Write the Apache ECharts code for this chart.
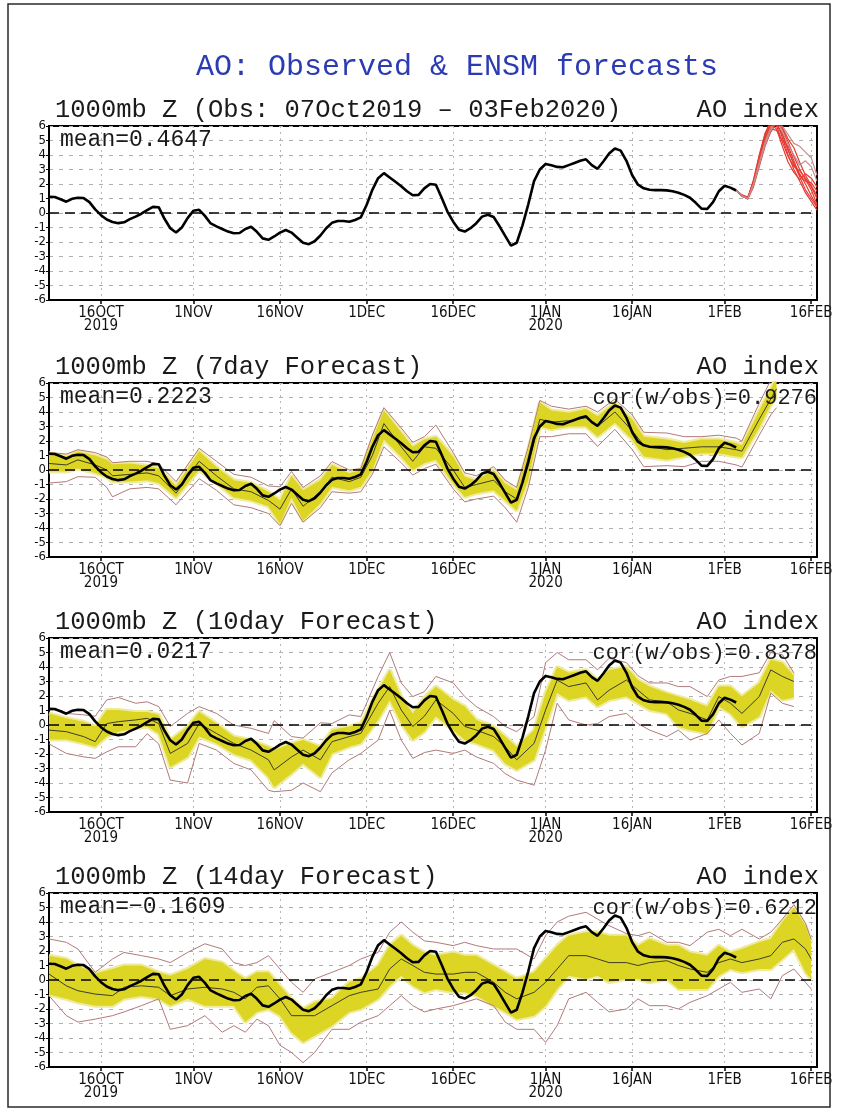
<!DOCTYPE html>
<html>
<head>
<meta charset="utf-8">
<script src="https://cdn.jsdelivr.net/npm/echarts@6/dist/echarts.min.js"></script>
<style>
  html, body { margin: 0; padding: 0; background: #fff; }
  #chart { width: 850px; height: 1110px; }
</style>
</head>
<body>
<div id="chart"></div>
<script>
// ---- time axis: one category per day, starting 7 Oct 2019 ----
const startDay = Date.UTC(2019, 9, 7);
const dayCount = 134;
const tickDays = [9, 25, 40, 55, 70, 86, 101, 117, 132];
const tickLabels = ['16OCT\n2019', '1NOV', '16NOV', '1DEC', '16DEC', '1JAN\n2020', '16JAN', '1FEB', '16FEB'];

// ---- observed daily AO index, 07Oct2019 .. 03Feb2020 ----
const obsValues = [
  1.12, 1.10, 0.95, 0.78, 0.98, 1.05, 1.03, 0.75, 0.25, -0.15,
  -0.45, -0.62, -0.70, -0.64, -0.42, -0.25, -0.05, 0.20, 0.42, 0.40,
  -0.40, -1.05, -1.35, -1.00, -0.35, 0.15, 0.22, -0.20, -0.72, -0.92,
  -1.10, -1.28, -1.40, -1.38, -1.10, -0.95, -1.30, -1.75, -1.85, -1.62,
  -1.35, -1.17, -1.35, -1.70, -2.05, -2.15, -1.95, -1.55, -1.05, -0.68,
  -0.55, -0.55, -0.60, -0.48, -0.30, 0.55, 1.60, 2.40, 2.75, 2.45,
  2.15, 1.85, 1.50, 1.22, 1.25, 1.70, 2.00, 1.95, 1.05, 0.10,
  -0.60, -1.15, -1.28, -1.05, -0.70, -0.25, -0.12, -0.28, -0.90, -1.58,
  -2.25, -2.05, -0.85, 0.60, 2.20, 3.00, 3.38, 3.30, 3.18, 3.15,
  3.30, 3.45, 3.60, 3.70, 3.30, 3.05, 3.55, 4.10, 4.45, 4.30,
  3.60, 2.60, 1.95, 1.70, 1.60, 1.58, 1.58, 1.56, 1.50, 1.40,
  1.25, 1.05, 0.70, 0.30, 0.28, 0.75, 1.50, 1.88, 1.75, 1.55
];

// ---- ensemble member forecasts from 03Feb2020 ----
const memberDays = [119, 120, 121, 122, 123, 124, 125, 126, 127, 128, 129, 130, 131, 132, 133];
const member01 = [1.55, 1.20, 1.00, 2.10, 3.70, 5.20, 6.20, 6.30, 5.20, 4.00, 3.00, 2.20, 1.40, 0.80, 0.20];
const member02 = [1.55, 1.20, 1.00, 1.90, 3.40, 4.90, 6.00, 6.10, 5.50, 4.40, 3.30, 2.70, 2.00, 1.20, 0.50];
const member03 = [1.55, 1.25, 1.05, 2.20, 3.90, 5.40, 6.40, 6.00, 4.90, 3.90, 3.20, 2.90, 2.40, 1.80, 1.00];
const member04 = [1.55, 1.20, 0.95, 1.80, 3.20, 4.60, 5.60, 6.20, 5.80, 4.90, 3.90, 3.00, 2.30, 1.60, 0.60];
const member05 = [1.55, 1.15, 1.00, 2.00, 3.50, 5.00, 5.80, 5.70, 5.00, 4.60, 3.60, 2.60, 2.20, 2.10, 1.50];
const member06 = [1.55, 1.20, 1.00, 2.30, 4.00, 5.50, 6.30, 6.50, 5.90, 5.10, 4.50, 3.50, 2.60, 1.90, 1.20];
const member07 = [1.55, 1.25, 1.10, 2.00, 3.60, 5.10, 5.90, 6.10, 5.40, 4.30, 3.40, 2.50, 1.60, 1.00, 0.40];
const member08 = [1.55, 1.20, 1.00, 1.90, 3.30, 4.70, 5.70, 6.30, 6.00, 5.40, 4.80, 4.60, 4.20, 3.80, 2.60];
const member09 = [1.55, 1.20, 1.05, 2.10, 3.80, 5.30, 6.10, 5.80, 4.60, 3.50, 2.80, 2.30, 2.70, 2.40, 1.80];
const member10 = [1.55, 1.20, 1.00, 2.00, 3.50, 4.90, 5.90, 6.40, 5.60, 4.70, 4.00, 3.30, 3.60, 3.20, 2.20];

// ---- 7-day forecast: days, envelope max/min, shaded spread hi/lo, ensemble mean ----
const f7Days = [0,3,5,8,10, 11,14,17,19,22, 26,29,32,35,38, 40,42,44,47,49, 52,54,56,58,61, 63,65,67,70,72, 74,77,79,81,83, 85,87,90,93,95, 98,101,103,107,110, 113,116,119,120,123, 125,126];
const f7Max = [1.2,1.1,1.4,1.2,0.9, 0.5,0.6,0.6,0.4,-0.8, 1.5,0.6,-0.3,-0.5,-1.1, -1.16,-0.1,-1.2,-0.4,0.58, 0.0,0.1,2.4,4.3,2.9, 1.9,2.3,3.1,1.2,-0.2, -0.4,0.23,-0.7,-1.2,1.6, 4.8,4.4,4.2,4.4,4.0, 4.9,3.8,2.6,2.55,2.3, 2.3,2.4,2.2,2.0,4.6, 6.2,6.8];
const f7Hi = [1.15,0.95,1.28,1.0,0.7, 0.4,0.45,0.3,0.1,-1.1, 1.3,0.2,-0.7,-0.9,-1.5, -2.1,-0.4,-1.4,-0.7,0.35, -0.23,0.0,2.1,4.1,2.6, 1.6,2.1,2.3,0.93,-0.46, -0.7,0.0,-0.93,-1.4,1.4, 4.65,4.1,3.95,4.2,3.7, 4.65,3.5,2.3,2.1,1.86, 2.1,2.1,1.86,1.7,4.1, 5.6,6.4];
const f7Mean = [0.45,0.35,0.7,0.35,0.0, -0.4,-0.3,-0.2,-0.4,-1.6, 0.6,-0.4,-1.3,-1.5,-2.1, -2.7,-1.3,-2.5,-1.5,-0.5, -0.8,-0.5,1.0,3.2,1.6, 0.6,1.6,1.5,0.0,-1.2, -1.0,-0.7,-1.5,-2.0,0.3, 3.5,3.3,3.4,3.6,3.0, 4.0,2.7,1.7,1.4,1.5, 1.6,1.6,1.4,1.3,3.5, 4.9,5.6];
const f7Lo = [-0.1,-0.1,0.1,-0.2,-0.5, -0.8,-0.8,-0.7,-0.9,-1.9, 0.0,-0.9,-1.9,-2.1,-2.5, -3.7,-1.9,-3.5,-2.3,-1.16, -1.4,-1.16,0.0,2.1,0.9, 0.0,0.46,0.7,-0.93,-1.86, -1.6,-1.4,-2.1,-2.8,-0.7, 3.0,2.8,3.0,3.0,2.3, 3.26,2.1,0.93,0.7,0.93, 1.16,1.16,0.93,0.9,2.9, 4.5,5.1];
const f7Min = [-0.9,-0.8,-0.46,-0.5,-1.2, -1.85,-1.3,-1.2,-1.3,-2.4, -0.6,-1.4,-2.4,-2.6,-3.0, -3.84,-2.3,-3.6,-2.6,-1.5, -1.6,-1.5,-0.3,1.6,0.5, -0.35,0.1,0.4,-1.3,-2.2, -2.0,-1.8,-2.6,-3.6,-1.2, 2.3,2.3,2.5,2.5,1.63, 2.8,1.4,0.23,0.3,0.23, 0.6,0.6,0.35,0.2,2.4, 3.8,4.3];

// ---- 10-day forecast ----
const f10Days = [0,3,6,8,10, 12,15,17,19,21, 24,26,29,32,35, 38,39,42,44,47, 49,52,54,57,59, 61,63,65,67,70, 72,74,77,79,81, 84,86,88,90,93, 95,97,100,102,104, 107,109,111,114,116, 118,120,123,125,127, 129];
const f10Max = [1.15,0.8,0.7,0.6,1.73, 1.9,1.5,1.6,1.27,-0.1, 0.8,1.27,0.8,0.0,-0.23, -0.58,0.3,-0.8,-0.9,0.15, 0.1,0.7,0.58,3.35,5.0, 2.9,1.96,2.3,3.35,2.9, 1.96,1.27,0.58,-0.1,-0.46, 0.58,4.3,5.0,4.5,4.5, 3.8,4.6,4.3,3.4,2.9, 2.9,2.65,2.65,1.96,3.1, 3.35,3.35,3.6,5.0,4.85, 3.6];
const f10Hi = [0.8,0.46,0.23,-0.1,1.04, 1.04,0.9,0.9,0.7,-1.04, -0.1,0.9,0.1,-0.8,-1.04, -1.5,-1.73,-1.27,-1.04,-1.5, -0.35,-0.1,0.1,2.4,3.8, 1.96,0.8,1.9,2.65,1.73, 1.27,0.35,-0.1,-0.8,-1.5, -0.35,2.2,4.0,3.6,3.8, 3.1,3.8,4.0,3.1,2.65, 2.2,1.96,1.73,1.27,2.65, 2.65,1.96,2.9,4.5,4.3, 3.4];
const f10Mean = [-0.35,-0.46,-0.8,-1.15,0.1, 0.23,0.35,0.46,0.1,-1.96, -1.27,0.1,-0.58,-1.27,-1.73, -2.4,-3.1,-2.2,-1.73,-2.4, -1.15,-0.8,-0.58,1.5,2.65, 1.04,-0.1,0.6,1.73,0.8, -0.1,-0.35,-0.8,-1.5,-2.4, -1.27,1.04,3.1,2.65,2.9, 1.73,2.4,3.1,2.4,1.73, 1.6,1.04,0.8,0.35,1.96, 1.5,0.8,1.96,3.8,3.35, 3.0];
const f10Lo = [-1.0,-1.0,-1.27,-1.5,-0.8, -0.46,-0.23,-0.1,-0.6,-2.9, -2.2,-0.8,-1.27,-2.0,-2.4, -3.6,-4.3,-3.35,-2.65,-3.6, -1.96,-1.5,-1.27,0.35,1.73, 0.1,-1.04,-0.45,0.58,-0.35, -1.04,-1.27,-1.73,-2.65,-3.1, -2.4,-0.1,2.2,1.73,1.96, 1.27,1.73,1.96,1.5,1.04, 0.8,-0.1,-0.35,-0.58,1.27, 0.8,-0.1,0.58,2.4,1.73, 1.9];
const f10Min = [-1.3,-1.96,-2.2,-2.3,-1.85, -1.5,-1.5,-0.6,-1.3,-3.8, -4.0,-1.27,-1.73,-2.65,-3.1, -4.5,-4.6,-4.5,-4.0,-4.6, -3.3,-2.4,-1.96,-1.04,1.0, -1.04,-2.3,-1.9,-1.73,-1.96, -1.73,-2.2,-2.65,-3.35,-3.8, -4.15,-1.73,1.5,0.35,0.0, 0.1,0.58,0.8,0.1,-0.35, -0.8,-0.35,-1.04,-0.58,0.35, -0.58,-1.38,-0.58,2.2,1.5, 1.27];

// ---- 14-day forecast ----
const f14Days = [0,3,5,8,11, 13,16,19,21,24, 27,30,32,34,36, 38,40,42,44,46, 49,52,54,57,59, 61,63,65,67,70, 72,74,77,79,81, 84,86,88,90,93, 95,97,100,102,104, 107,109,111,114,116, 118,120,123,125,127, 129,131,132];
const f14Max = [2.83,2.6,2.14,0.53,1.45, 1.9,1.68,1.45,1.2,1.9, 2.5,2.14,1.2,1.0,1.2, 1.68,0.76,-0.16,-0.85,0.07, 0.53,1.0,1.45,1.9,3.3, 4.0,3.3,2.7,2.6,2.37, 2.6,2.37,2.14,2.14,2.14, 1.45,3.06,4.0,4.4,4.67, 4.2,3.75,3.2,3.06,3.3, 2.6,2.6,2.37,3.3,3.5, 3.06,3.5,2.83,3.3,4.2, 5.2,3.9,2.8];
const f14Hi = [1.68,1.45,1.0,0.45,0.76, 1.0,1.0,0.53,0.3,0.76, 1.45,1.2,0.6,0.07,0.53, 0.53,-0.4,-1.3,-2.0,-1.54, -1.3,-0.16,0.07,1.0,2.37, 3.06,2.37,1.9,1.68,1.9, 1.68,1.68,1.0,0.53,0.07, 0.53,1.45,2.37,3.06,3.3, 3.3,3.06,3.06,2.37,2.83, 2.37,2.37,1.9,1.68,2.37, 1.9,2.14,2.6,2.83,4.0, 5.0,3.75,2.6];
const f14Mean = [0.41,-0.4,-0.74,-0.97,-1.08, -0.5,-0.4,-0.5,-1.08,-0.62, -0.5,-0.62,-0.85,-1.3,-0.5, -0.4,-1.3,-2.46,-2.46,-2.46, -1.77,-1.08,-0.85,-0.62,0.76, 1.45,1.0,0.53,0.41,0.41, 0.53,0.53,-0.16,-0.85,-1.3, -0.85,-0.16,0.76,1.68,1.68, 1.45,1.2,1.2,1.0,1.2, 1.33,1.0,0.76,0.53,1.2, 1.45,1.2,1.45,1.68,2.6, 2.83,2.14,1.45];
const f14Lo = [-1.0,-1.3,-1.54,-1.77,-1.77, -1.3,-1.1,-1.3,-1.77,-1.3, -1.77,-1.77,-1.77,-2.9,-2.2, -2.0,-2.46,-3.6,-4.3,-3.84, -3.15,-2.2,-2.0,-1.3,-0.4, 0.3,-0.4,-0.85,-0.62,-0.85, -0.85,-1.08,-1.77,-2.2,-2.7, -2.46,-1.77,-0.62,0.3,0.07, 0.3,-0.16,0.07,0.07,-0.16, 0.07,-0.62,-0.62,-0.62,0.3, 0.76,0.53,0.76,0.76,1.45, 2.14,0.53,0.07];
const f14Min = [-1.08,-2.46,-2.9,-2.7,-2.46, -2.2,-1.77,-1.3,-3.4,-3.15, -2.46,-3.6,-3.15,-3.6,-2.7, -3.15,-4.5,-5.0,-5.7,-5.0, -3.4,-3.4,-2.9,-2.46,-1.77, -1.08,-1.77,-2.2,-2.0,-1.77, -1.54,-1.3,-1.77,-2.9,-3.4, -3.4,-4.3,-3.15,-1.3,-0.85, -1.54,-2.2,-2.0,-1.3,-1.77, -1.77,-2.0,-1.54,-1.08,-0.62, -0.16,-0.85,-0.62,-1.3,0.3, 0.76,-0.16,-0.62];

// ---- panel text ----
const panelTitles = ['1000mb Z (Obs: 07Oct2019 \u2013 03Feb2020)', '1000mb Z (7day Forecast)', '1000mb Z (10day Forecast)', '1000mb Z (14day Forecast)'];
const meanTexts = ['mean=0.4647', 'mean=0.2223', 'mean=0.0217', 'mean=\u22120.1609'];
const corTexts = [null, 'cor(w/obs)=0.9276', 'cor(w/obs)=0.8378', 'cor(w/obs)=0.6212'];

// ---- styling ----
const MONO = "'Liberation Mono', 'DejaVu Sans Mono', monospace";
const NARROW = "'Liberation Sans Narrow', 'DejaVu Sans Condensed', 'Liberation Sans', sans-serif";
const BAND = '#dcd523';
const BAND_EDGE = '#eeeb9e';
const ENVELOPE = '#b27a7a';
const ENS_MEAN = '#3d3d28';
const panelTops = [126, 383, 638, 893];
const PLOT_H = 174;

const months = ['JAN','FEB','MAR','APR','MAY','JUN','JUL','AUG','SEP','OCT','NOV','DEC'];
const dayNames = Array.from({ length: dayCount }, (_, i) => {
  const d = new Date(startDay + i * 86400000);
  return d.getUTCDate() + months[d.getUTCMonth()];
});
const isTick = (idx) => tickDays.indexOf(idx) >= 0;
const pairs = (days, vals) => days.map((d, i) => [d, vals[i]]);
const obsDays = obsValues.map((_, i) => i);

const grids = [], xAxes = [], yAxes = [], series = [];
panelTops.forEach((top, p) => {
  grids.push({ left: 49, top: top, width: 768, height: PLOT_H, show: true,
               borderColor: '#000', borderWidth: 2, backgroundColor: '#fff' });
  xAxes.push({
    type: 'category', gridIndex: p, data: dayNames, boundaryGap: false, position: 'bottom',
    axisLine: { show: true, onZero: false, lineStyle: { color: '#000', width: 2 } },
    axisTick: { show: true, interval: isTick, length: 4, lineStyle: { color: '#000', width: 1.5 } },
    axisLabel: { interval: isTick, formatter: (v, idx) => tickLabels[tickDays.indexOf(idx)] || '',
                 fontFamily: NARROW, fontSize: 15, color: '#111', margin: 7, lineHeight: 13 },
    splitLine: { show: true, interval: isTick, lineStyle: { color: '#b8b8b8', type: [2, 4], width: 1 } }
  });
  yAxes.push({
    type: 'value', gridIndex: p, min: -6, max: 6, interval: 1,
    axisLine: { show: true, onZero: false, lineStyle: { color: '#000', width: 2 } },
    axisTick: { show: true, length: 3, lineStyle: { color: '#000', width: 1 } },
    axisLabel: { fontFamily: NARROW, fontSize: 13, color: '#111', margin: 3, lineHeight: 12 },
    splitLine: { show: true, lineStyle: { color: '#b0b0b0', type: [4, 6], width: 1 } }
  });
});

function thinLine(p, days, vals, color, width, z) {
  return { type: 'line', xAxisIndex: p, yAxisIndex: p, data: pairs(days, vals),
           symbol: 'none', silent: true, z: z, lineStyle: { color: color, width: width } };
}

function forecastPanel(p, days, mx, hi, mean, lo, mn) {
  const stackId = 'spread' + p;
  // pale rim under the shaded spread
  series.push(thinLine(p, days, hi, BAND_EDGE, 4, 1));
  series.push(thinLine(p, days, lo, BAND_EDGE, 4, 1));
  series.push({ type: 'line', xAxisIndex: p, yAxisIndex: p, stack: stackId, stackStrategy: 'all',
                data: pairs(days, lo), symbol: 'none', silent: true, z: 2, lineStyle: { opacity: 0 } });
  series.push({ type: 'line', xAxisIndex: p, yAxisIndex: p, stack: stackId, stackStrategy: 'all',
                data: pairs(days, hi.map((v, i) => v - lo[i])), symbol: 'none', silent: true, z: 2,
                lineStyle: { opacity: 0 }, areaStyle: { color: BAND, opacity: 1 } });
  series.push(thinLine(p, days, mx, ENVELOPE, 1, 3));
  series.push(thinLine(p, days, mn, ENVELOPE, 1, 3));
  series.push(thinLine(p, days, mean, ENS_MEAN, 1, 4));
}

function observed(p) {
  series.push({
    type: 'line', xAxisIndex: p, yAxisIndex: p, data: pairs(obsDays, obsValues),
    symbol: 'none', silent: true, z: 6, lineStyle: { color: '#000', width: 2.6 },
    markLine: { silent: true, symbol: 'none', label: { show: false }, animation: false,
                lineStyle: { color: '#000', type: [10, 6], width: 1.5 }, data: [{ yAxis: 0 }] }
  });
}

// panel 1: observations plus ensemble members
[member01, member02, member03, member04, member05, member06, member07, member08, member09, member10]
  .forEach((m, k) => {
    const col = (k === 7 || k === 9) ? '#c48c8c' : '#e63b32';
    series.push(thinLine(0, memberDays, m, col, 1.2, 5));
  });
observed(0);

forecastPanel(1, f7Days, f7Max, f7Hi, f7Mean, f7Lo, f7Min);
observed(1);
forecastPanel(2, f10Days, f10Max, f10Hi, f10Mean, f10Lo, f10Min);
observed(2);
forecastPanel(3, f14Days, f14Max, f14Hi, f14Mean, f14Lo, f14Min);
observed(3);

// ---- text overlays ----
const graphics = [
  { type: 'rect', silent: true, z: 100, shape: { x: 8, y: 4, width: 822, height: 1103 },
    style: { fill: null, stroke: '#2a2a2a', lineWidth: 1.5 } },
  { type: 'text', silent: true, z: 100, x: 457, y: 67,
    style: { text: 'AO: Observed & ENSM forecasts', font: '30px ' + MONO, fill: '#2b3cb2',
             align: 'center', verticalAlign: 'middle' } }
];
panelTops.forEach((top, p) => {
  graphics.push({ type: 'text', silent: true, z: 100, x: 55, y: top - 16,
    style: { text: panelTitles[p], font: '25.5px ' + MONO, fill: '#1a1a1a', align: 'left', verticalAlign: 'middle' } });
  graphics.push({ type: 'text', silent: true, z: 100, x: 819, y: top - 16,
    style: { text: 'AO index', font: '25.5px ' + MONO, fill: '#1a1a1a', align: 'right', verticalAlign: 'middle' } });
  graphics.push({ type: 'text', silent: true, z: 100, x: 60, y: top + 14,
    style: { text: meanTexts[p], font: '23px ' + MONO, fill: '#1a1a1a', align: 'left', verticalAlign: 'middle' } });
  if (corTexts[p]) {
    graphics.push({ type: 'text', silent: true, z: 100, x: 817, y: top + 15,
      style: { text: corTexts[p], font: '22px ' + MONO, fill: '#1a1a1a', align: 'right', verticalAlign: 'middle' } });
  }
});

const chart = echarts.init(document.getElementById('chart'), null, { renderer: 'canvas', width: 850, height: 1110 });
chart.setOption({
  animation: false,
  backgroundColor: '#fff',
  grid: grids,
  xAxis: xAxes,
  yAxis: yAxes,
  series: series,
  graphic: graphics
});
</script>
</body>
</html>
